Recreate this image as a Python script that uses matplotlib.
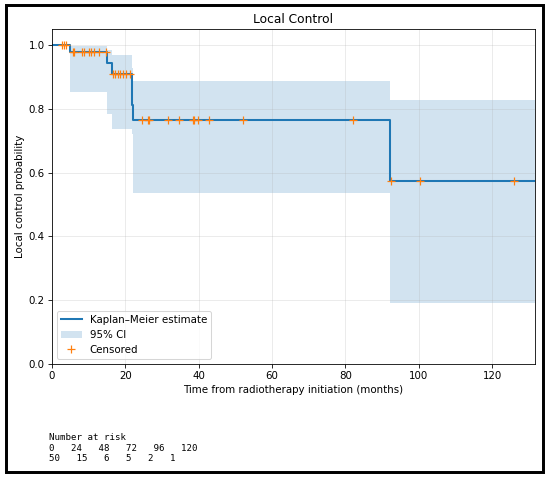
import matplotlib
matplotlib.use("Agg")
import matplotlib.pyplot as plt
from matplotlib.patches import Rectangle

# Kaplan-Meier steps
event_times = [0.0, 4.9, 14.9, 16.4, 21.7, 22.1, 92.3]
surv = [1.0, 0.979, 0.943, 0.909, 0.813, 0.764, 0.573]
ci_lower = [1.0, 0.854, 0.785, 0.736, 0.72, 0.535, 0.19]
ci_upper = [1.0, 0.997, 0.984, 0.969, 0.93, 0.889, 0.829]
t_end = 131.7

# censored observations
cens_times = [2.7, 3.3, 3.9,
              5.6, 5.9, 8.2, 8.8, 10.2, 10.6, 11.5, 12.9, 14.7,
              16.6, 17.2, 17.9, 18.5, 19.3, 20.3, 21.3,
              24.5, 26.1, 26.4, 31.6, 34.7, 38.4, 38.8, 39.7, 42.7, 52.0, 82.0,
              92.4, 100.4, 126.1]

risk_times = [0, 24, 48, 72, 96, 120]
risk_counts = [50, 15, 6, 5, 2, 1]


def surv_at(t):
    s = 1.0
    for et, sv in zip(event_times, surv):
        if et <= t:
            s = sv
    return s


cens_surv = [surv_at(t) for t in cens_times]

DPI = 73.5
xs = event_times + [t_end]
fig = plt.figure(figsize=(550 / DPI, 477 / DPI), dpi=DPI)
ax = fig.add_axes([0.0945, 0.2369, 0.8782, 0.7017])

ax.step(xs, surv + [surv[-1]], where='post', color='tab:blue', lw=2,
        label='Kaplan\u2013Meier estimate')
ax.fill_between(xs, ci_lower + [ci_lower[-1]], ci_upper + [ci_upper[-1]],
                step='post', color='tab:blue', alpha=0.2, lw=0, label='95% CI')
ax.plot(cens_times, cens_surv, '+', color='tab:orange', ms=8, mew=1.2,
        label='Censored')

ax.set_xlim(0, t_end)
ax.set_ylim(0, 1.05)
ax.set_title('Local Control')
ax.set_xlabel('Time from radiotherapy initiation (months)')
ax.set_ylabel('Local control probability')
ax.grid(True, alpha=0.3)
ax.legend(loc='lower left')

risk_text = 'Number at risk\n' + '   '.join(str(t) for t in risk_times) + '\n' \
    + '   '.join(str(n) for n in risk_counts)
fig.text(0.089, 0.092, risk_text, family='DejaVu Sans Mono', fontsize=8.9,
         va='top', ha='left')

fig.patches.append(Rectangle((0.01, 0.0105), 0.977, 0.98, transform=fig.transFigure,
                             fill=False, edgecolor='black', lw=2.9))

fig.savefig('out.png', dpi=DPI)
